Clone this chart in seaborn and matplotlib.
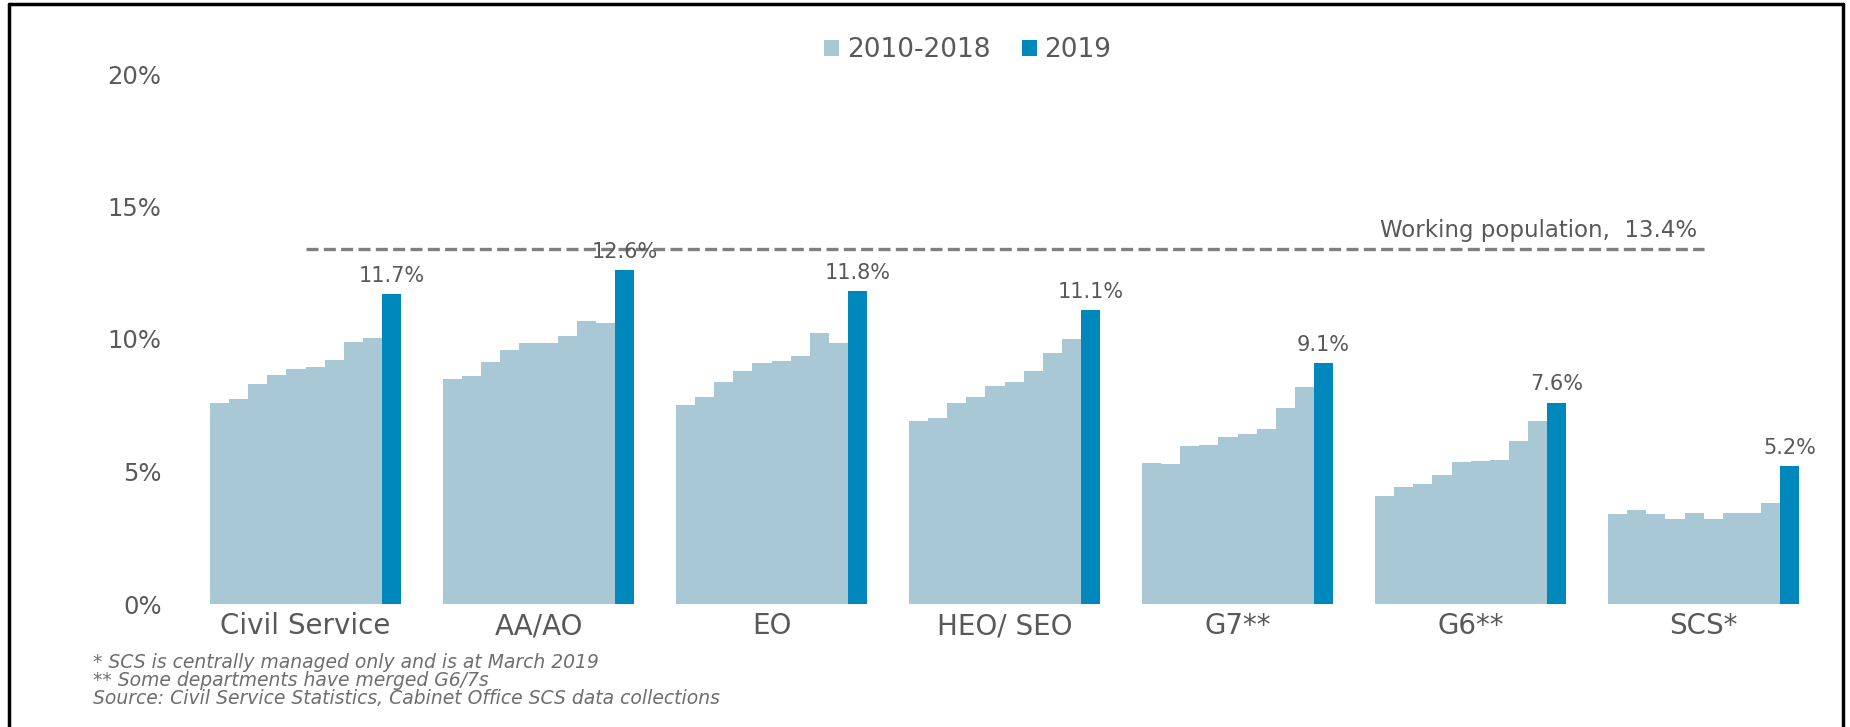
import numpy as np
import pandas as pd
import matplotlib
matplotlib.use("Agg")
import matplotlib.pyplot as plt
from matplotlib.patches import Patch
from matplotlib.lines import Line2D
import seaborn as sns

# ---------------- data ----------------
grades = ["Civil Service", "AA/AO", "EO", "HEO/ SEO", "G7**", "G6**", "SCS*"]
years_hist = ["2010", "2011", "2012", "2013", "2014", "2015", "2016", "2017", "2018"]
civil_service = [7.6, 7.73, 8.31, 8.65, 8.86, 8.94, 9.19, 9.9, 10.05]
aa_ao = [8.5, 8.6, 9.15, 9.59, 9.86, 9.84, 10.12, 10.69, 10.61]
eo = [7.52, 7.83, 8.37, 8.8, 9.08, 9.16, 9.37, 10.24, 9.86]
heo_seo = [6.89, 7.02, 7.6, 7.83, 8.21, 8.38, 8.8, 9.49, 10.01]
g7 = [5.33, 5.3, 5.95, 5.99, 6.29, 6.42, 6.6, 7.39, 8.18]
g6 = [4.07, 4.42, 4.51, 4.86, 5.36, 5.41, 5.45, 6.14, 6.89]
scs = [3.38, 3.55, 3.38, 3.22, 3.42, 3.2, 3.42, 3.42, 3.8]
values_2019 = [11.7, 12.6, 11.8, 11.1, 9.1, 7.6, 5.2]
working_population = 13.4
working_label = "Working population,  13.4%"
y_ticks = [0, 5, 10, 15, 20]
y_tick_labels = ["0%", "5%", "10%", "15%", "20%"]
legend_labels = ["2010-2018", "2019"]
footnotes = [
    "* SCS is centrally managed only and is at March 2019",
    "** Some departments have merged G6/7s",
    "Source: Civil Service Statistics, Cabinet Office SCS data collections",
]

hist_series = [civil_service, aa_ao, eo, heo_seo, g7, g6, scs]

# ---------------- layout / style ----------------
LIGHT = "#A9C8D6"
DARK = "#0087BC"
TEXT = "#595959"
STEP = 12.2          # group spacing in bar units
W, H = 1850, 727

rows = []
for g, (grade, hist, last) in enumerate(zip(grades, hist_series, values_2019)):
    for i, v in enumerate(hist):
        rows.append(dict(pos=round(g * STEP + i, 3), value=v, period=legend_labels[0], grade=grade))
    rows.append(dict(pos=round(g * STEP + len(hist), 3), value=last, period=legend_labels[1], grade=grade))
df = pd.DataFrame(rows)

sns.set_theme(style="white")
plt.rcParams["font.family"] = ["DejaVu Sans"]

fig = plt.figure(figsize=(W / 100, H / 100), dpi=100)
# axes pixel box
L, R, B, T = 170, 1835, 604, 74
ax = fig.add_axes([L / W, (H - B) / H, (R - L) / W, (B - T) / H])

sns.barplot(data=df, x="pos", y="value", hue="period",
            palette={legend_labels[0]: LIGHT, legend_labels[1]: DARK},
            native_scale=True, width=1.0, dodge=False, legend=False,
            saturation=1, linewidth=0, ax=ax)

unit_px = 19.1
x0_px = 210
ax.set_xlim(-0.5 + (L - x0_px) / unit_px, -0.5 + (R - x0_px) / unit_px)
ax.set_ylim(0, 20)

centers = [g * STEP + 4.5 for g in range(len(grades))]
ax.set_xticks(centers)
ax.set_xticklabels(grades, fontsize=20, color=TEXT)
ax.set_yticks(y_ticks)
ax.set_yticklabels(y_tick_labels, fontsize=17.5, color=TEXT)
ax.tick_params(axis="x", length=0, pad=6)
ax.tick_params(axis="y", length=0, pad=6)
ax.set_xlabel("")
ax.set_ylabel("")
for s in ax.spines.values():
    s.set_visible(False)
ax.grid(False)
ax.set_facecolor("none")

# value labels on 2019 bars
for g, v in enumerate(values_2019):
    xpos = g * STEP + len(hist_series[g])
    ax.annotate(f"{v:.1f}%", (xpos, v), xytext=(0, 6), textcoords="offset points",
                ha="center", va="bottom", fontsize=15, color=TEXT)

# working population reference line
ax.plot([centers[0], centers[-1]], [working_population, working_population],
        color="#7F7F7F", lw=2.4, dashes=(3.6, 1.6), solid_capstyle="butt")
ax.annotate(working_label, (centers[-1], working_population), xytext=(-5, 5),
            textcoords="offset points", ha="right", va="bottom", fontsize=16.5, color=TEXT)

# legend
handles = [Patch(facecolor=LIGHT, edgecolor="none"), Patch(facecolor=DARK, edgecolor="none")]
fig.legend(handles, legend_labels, loc="center", bbox_to_anchor=(968 / W, 1 - 50 / H),
           ncol=2, frameon=False, fontsize=19, handlelength=0.55, handleheight=0.55,
           handletextpad=0.3, columnspacing=1.2, labelcolor=TEXT)

# footnotes
for txt, ypx in zip(footnotes, [662, 680, 698]):
    fig.text(93 / W, 1 - ypx / H, txt, ha="left", va="center", fontsize=13.5,
             style="italic", color="#6E6E6E")

# outer frame (left, top, right)
fig.add_artist(Line2D([9 / W, 9 / W], [0, 1 - 4 / H], transform=fig.transFigure, color="black", lw=2.5))
fig.add_artist(Line2D([9 / W, 1843 / W], [1 - 4 / H, 1 - 4 / H], transform=fig.transFigure, color="black", lw=2.5))
fig.add_artist(Line2D([1843 / W, 1843 / W], [1 - 4 / H, 0], transform=fig.transFigure, color="black", lw=2.5))

fig.savefig("out.png", dpi=100, facecolor="white")
